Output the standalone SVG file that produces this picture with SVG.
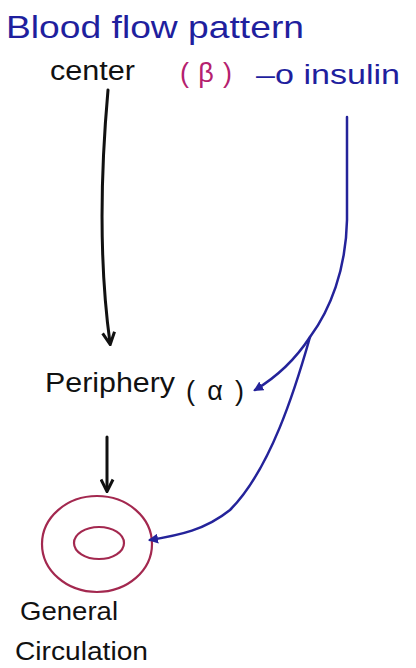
<svg xmlns="http://www.w3.org/2000/svg" width="416" height="668" viewBox="0 0 416 668">
<defs>
<style>
.t{font-family:"Liberation Sans","DejaVu Sans",sans-serif;}
.blk{fill:#111;}
.blu{fill:#1f1f9e;}
.mag{fill:#b5206e;}
.cb{stroke:#111;stroke-width:3;fill:none;stroke-linecap:round;}
.cu{stroke:#24239a;stroke-width:2.5;fill:none;stroke-linecap:round;}
.ring{stroke:#a3284f;stroke-width:2.2;fill:none;}
</style>
<marker id="ab" viewBox="0 0 10 10" refX="8" refY="5" markerWidth="5" markerHeight="5" orient="auto-start-reverse" markerUnits="strokeWidth">
<path d="M1,1 L9,5 L1,9" fill="none" stroke="#111" stroke-width="2"/>
</marker>
<marker id="au" viewBox="0 0 10 10" refX="8" refY="5" markerWidth="4" markerHeight="4" orient="auto" markerUnits="strokeWidth">
<path d="M0,0 L10,5 L0,10 Z" fill="#24239a"/>
</marker>
</defs>
<rect width="416" height="668" fill="#ffffff"/>
<g id="title"><text class="t blu" x="6" y="38" font-size="32" textLength="298" lengthAdjust="spacingAndGlyphs">Blood flow pattern</text></g>
<g id="center"><text class="t blk" x="50" y="80" font-size="27" textLength="85" lengthAdjust="spacingAndGlyphs">center</text></g>
<g id="beta"><text class="t mag" x="180" y="82" font-size="27" textLength="52" lengthAdjust="spacing">(β)</text></g>
<g id="insulin"><text class="t blu" x="256" y="84" font-size="27" textLength="144" lengthAdjust="spacingAndGlyphs">–o insulin</text></g>
<g id="periphery"><text class="t blk" x="45" y="392" font-size="27" textLength="130" lengthAdjust="spacingAndGlyphs">Periphery</text><text class="t blk" x="186" y="400" font-size="27" textLength="58" lengthAdjust="spacing">(α)</text></g>
<g id="general-circulation">
<ellipse class="ring" cx="97" cy="544" rx="55" ry="48"/>
<ellipse class="ring" cx="99" cy="543" rx="25" ry="16"/>
<text class="t blk" x="20" y="620" font-size="26" textLength="98" lengthAdjust="spacingAndGlyphs">General</text>
<text class="t blk" x="15" y="660" font-size="26" textLength="133" lengthAdjust="spacingAndGlyphs">Circulation</text>
</g>
<g id="connectors">
<path class="cb" d="M108,90 C100,180 100,270 110,343" marker-end="url(#ab)"/>
<path class="cb" d="M107,437 L107,490" marker-end="url(#ab)"/>
<path class="cu" d="M347,117 L347,220 C346,270 330,310 310,337 C295,360 275,378 255,390" marker-end="url(#au)"/>
<path class="cu" d="M310,337 C295,390 270,470 230,510 C205,530 180,535 150,540" marker-end="url(#au)"/>
</g>
</svg>
